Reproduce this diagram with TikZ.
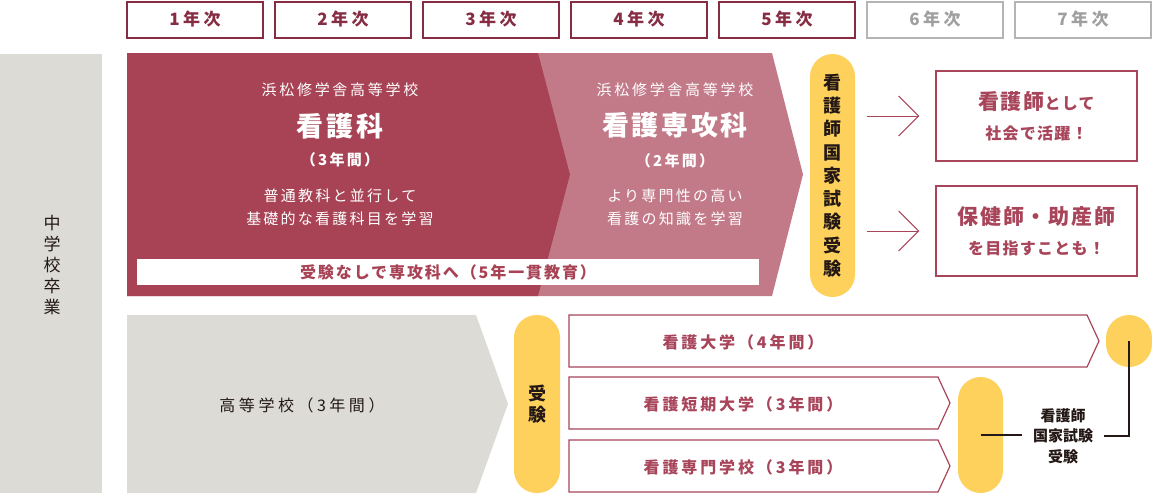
\documentclass[tikz,border=0pt]{standalone}
\usepackage{fontspec}
\setmainfont{Noto Sans CJK JP}
\usetikzlibrary{arrows.meta}
\definecolor{hdr}{HTML}{862C43}
\definecolor{hgray}{HTML}{B4B4B4}
\definecolor{deep}{HTML}{A84356}
\definecolor{soft}{HTML}{C27A88}
\definecolor{rose}{HTML}{A8455A}
\definecolor{yel}{HTML}{FDD15C}
\definecolor{pale}{HTML}{DCDBD6}
\definecolor{ink}{HTML}{231815}
\newcommand\fsz[2]{\fontsize{#1}{#2}\selectfont}
\newcommand\trk[1]{\addfontfeature{LetterSpace=#1}}

\begin{document}
\begin{tikzpicture}[x=1pt,y=-1pt,
  hdrbox/.style={draw=#1, line width=2pt, minimum width=136pt, minimum height=36pt, inner sep=0pt, text=#1, font=\bfseries\fsz{17}{18}\trk{20}},
  wtext/.style={text=white, align=center, inner sep=0pt},
  pill/.style={fill=yel, rounded corners=22.5pt, inner sep=0pt, text=ink, align=center},
  career/.style={draw=rose, line width=1.3pt, fill=white, minimum width=201pt, minimum height=90pt, text=rose, align=center, inner sep=0pt, font=\bfseries\fsz{16}{30}},
  course/.style={draw=rose, line width=1.2pt, fill=white, line join=miter},
  coursetext/.style={text=rose, inner sep=0pt, font=\bfseries\fsz{16}{18}\trk{18}},
  barb/.style={draw=rose, line width=1pt, -{Straight Barb[length=20pt,width=40pt,line width=1pt]}, shorten <=12pt, shorten >=16pt},
  link/.style={draw=ink, line width=1.3pt}]
\useasboundingbox (0,0) rectangle (1152,493);
\foreach \n/\c in {1/hdr,2/hdr,3/hdr,4/hdr,5/hdr,6/hgray,7/hgray}
  \node[hdrbox=\c] (year\n) at ({195+148*(\n-1)},19.5) {\ifnum\n>5 \color{gray!75}\fi\n 年次};
\node[fill=pale, minimum width=102pt, minimum height=439pt, inner sep=0pt] (jhs) at (51,273.5) {};
\node[inner sep=0pt, align=center, text=ink, font=\fsz{17}{21}] (jhstext) at (52,265.5) {中\\学\\校\\卒\\業};
\fill[soft] (127,53) -- (772,53) -- (803,174.5) -- (772,296) -- (127,296) -- cycle;
\fill[deep] (127,53) -- (538,53) -- (570,174.5) -- (538,296) -- (127,296) -- cycle;
\node[wtext, font=\fsz{15}{18}\trk{18}] (schoolA) at (340,90) {浜松修学舎高等学校};
\node[wtext, font=\bfseries\fsz{27}{30}\trk{10}] (nurse) at (340,126) {看護科};
\node[wtext, font=\bfseries\fsz{15}{18}\trk{15}] (termA) at (340,160) {（3年間）};
\node[wtext, font=\fsz{15}{23}\trk{15}] (studyA) at (340,207.5) {普通教科と並行して\\基礎的な看護科目を学習};
\node[wtext, font=\fsz{15}{18}\trk{18}] (schoolB) at (675,90) {浜松修学舎高等学校};
\node[wtext, font=\bfseries\fsz{27}{30}\trk{10}] (advanced) at (675,125) {看護専攻科};
\node[wtext, font=\bfseries\fsz{15}{18}\trk{15}] (termB) at (675,161) {（2年間）};
\node[wtext, font=\fsz{15}{23}\trk{15}] (studyB) at (675,207.5) {より専門性の高い\\看護の知識を学習};
\node[fill=white, minimum width=622pt, minimum height=26pt, inner sep=0pt, text=deep, font=\bfseries\fsz{16}{18}\trk{12}] (banner) at (448,272) {受験なしで専攻科へ（5年一貫教育）};
\node[pill, minimum width=45pt, minimum height=243pt, font=\bfseries\fsz{18}{23.3}] (exam) at (832.5,175.5) {看\\護\\師\\国\\家\\試\\験\\受\\験};
\node[career] (careerA) at (1036.5,116) {{\fsz{21}{29}\trk{8}看護師}{\trk{8}として}\\{\trk{8}社会で活躍！}};
\node[career] (careerB) at (1036.5,231) {{\fsz{21}{29}\trk{8}保健師・助産師}\\{\trk{8}を目指すことも！}};
\draw[barb] (exam.east |- careerA.west) -- (careerA.west);
\draw[barb] (exam.east |- careerB.west) -- (careerB.west);
\fill[pale] (127,315) -- (476,315) -- (508,404) -- (476,493) -- (127,493) -- cycle;
\node[inner sep=0pt, text=ink, font=\fsz{16}{18}\trk{22}] (highschool) at (302,405) {高等学校（3年間）};
\node[pill, minimum width=46pt, minimum height=178pt, font=\bfseries\fsz{18}{21}] (juken) at (537,404) {受\\験};
\foreach \t/\r/\txt in {315/1087/看護大学（4年間）,377/938/看護短期大学（3年間）,440/938/看護専門学校（3年間）}{
  \draw[course] (569,\t) -- (\r,\t) -- ({\r+12},{\t+26}) -- (\r,{\t+52}) -- (569,{\t+52}) -- cycle;
  \node[coursetext] (course\t) at (743,{\t+27}) {\txt};
}
\node[pill, rounded corners=23pt, minimum width=46pt, minimum height=52pt] (goal) at (1129,341) {};
\node[pill, minimum width=45pt, minimum height=116pt] (exam2) at (980.5,435) {};
\node[text=ink, align=center, text width=66pt, inner xsep=8pt, inner ysep=0pt, font=\bfseries\fsz{15}{20.5}] (national) at (1063,436) {看護師\\国家試験\\受験};
\draw[link] (exam2.center) -- (exam2.center -| national.west);
\draw[link] (national.east) -| (goal.center);
\end{tikzpicture}
\end{document}
